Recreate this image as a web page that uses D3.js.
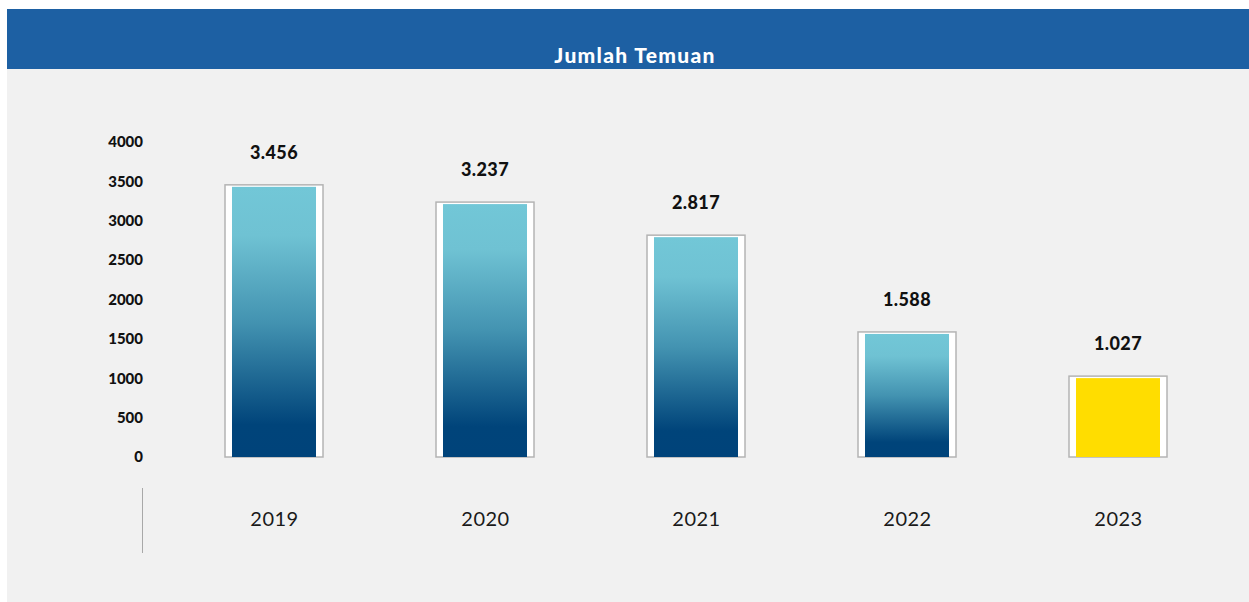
<!DOCTYPE html>
<meta charset="utf-8">
<script src="https://d3js.org/d3.v7.min.js"></script>
<style>
  body { margin: 0; background: #ffffff; }
  svg { display: block; }
</style>
<div id="my_dataviz"></div>
<script>

    // data
    var years = ["2019", "2020", "2021", "2022", "2023"];
    var temuan = [3456, 3237, 2817, 1588, 1027];
    var valueLabels = ["3.456", "3.237", "2.817", "1.588", "1.027"];
    var yTicks = [0, 500, 1000, 1500, 2000, 2500, 3000, 3500, 4000];
    var chartTitle = "Jumlah Temuan";

    var W = 1249, H = 602;

    var svg = d3.select("#my_dataviz")
      .append("svg")
        .attr("width", W)
        .attr("height", H)

    // grey panel + blue header
    svg.append("rect")
        .attr("x", 7).attr("y", 69)
        .attr("width", W - 7).attr("height", H - 69)
        .style("fill", "#f1f1f1")
    svg.append("rect")
        .attr("x", 7).attr("y", 9)
        .attr("width", W - 7).attr("height", 60)
        .style("fill", "#1d60a3")
    svg.append("text")
        .attr("x", 635).attr("y", 63)
        .attr("text-anchor", "middle")
        .style("font-family", "Lato")
        .style("font-weight", 900)
        .style("font-size", "21px")
        .style("letter-spacing", "1.3px")
        .style("fill", "#ffffff")
        .text(chartTitle)

    // gradient for the bars
    var defs = svg.append("defs")
    var grad = defs.append("linearGradient")
        .attr("id", "barGrad")
        .attr("x1", 0).attr("y1", 0).attr("x2", 0).attr("y2", 1)
    grad.append("stop").attr("offset", "0%").attr("stop-color", "#72c7d7")
    grad.append("stop").attr("offset", "18%").attr("stop-color", "#6fc2d3")
    grad.append("stop").attr("offset", "50%").attr("stop-color", "#4393b1")
    grad.append("stop").attr("offset", "88%").attr("stop-color", "#00447a")
    grad.append("stop").attr("offset", "100%").attr("stop-color", "#00437a")

    // scales
    var x = d3.scalePoint()
      .domain(years)
      .range([274, 1118])

    var y = d3.scaleLinear()
      .domain([0, 4000])
      .range([457, 142])

    // Y axis labels
    var yAxis = svg.append("g")
        .attr("transform", "translate(143,0)")
        .call(d3.axisLeft(y).tickValues(yTicks).tickSize(0).tickPadding(0).tickFormat(d3.format("d")))
    yAxis.select(".domain").remove()
    yAxis.selectAll("text")
        .style("font-family", "Lato")
        .style("font-weight", 900)
        .style("font-size", "15px")
        .style("fill", "#111")

    // X axis labels
    var xAxis = svg.append("g")
        .attr("transform", "translate(0,512)")
        .call(d3.axisBottom(x).tickSize(0).tickPadding(0))
    xAxis.select(".domain").remove()
    xAxis.selectAll("text")
        .style("font-family", "Lato")
        .style("font-size", "20px")
        .style("letter-spacing", "0.5px")
        .style("fill", "#1a1a1a")

    // small vertical separator
    svg.append("line")
        .attr("x1", 142.5).attr("x2", 142.5)
        .attr("y1", 488).attr("y2", 553)
        .style("stroke", "#a8a8a8")
        .style("stroke-width", 1)

    var outerW = 98, inset = 7;
    var bars = svg.append("g").selectAll("g.bar")
      .data(years)
      .enter()
      .append("g")
        .attr("class", "bar")

    // white frame
    bars.append("rect")
        .attr("x", function(d) { return x(d) - outerW / 2; })
        .attr("y", function(d, i) { return y(temuan[i]); })
        .attr("width", outerW)
        .attr("height", function(d, i) { return y(0) - y(temuan[i]); })
        .style("fill", "#ffffff")
        .style("stroke", "#b4b4b4")
        .style("stroke-width", 1.5)

    // inner filled bar
    bars.append("rect")
        .attr("x", function(d) { return x(d) - outerW / 2 + inset; })
        .attr("y", function(d, i) { return y(temuan[i]) + 2; })
        .attr("width", outerW - 2 * inset)
        .attr("height", function(d, i) { return y(0) - y(temuan[i]) - 2; })
        .style("fill", function(d, i) { return i === years.length - 1 ? "#ffdd00" : "url(#barGrad)"; })

    // value labels
    bars.append("text")
        .attr("x", function(d) { return x(d); })
        .attr("y", function(d, i) { return y(temuan[i]) - 26; })
        .attr("text-anchor", "middle")
        .style("font-family", "Lato")
        .style("font-weight", 900)
        .style("font-size", "18px")
        .style("letter-spacing", "0.4px")
        .style("fill", "#111")
        .text(function(d, i) { return valueLabels[i]; })

</script>
